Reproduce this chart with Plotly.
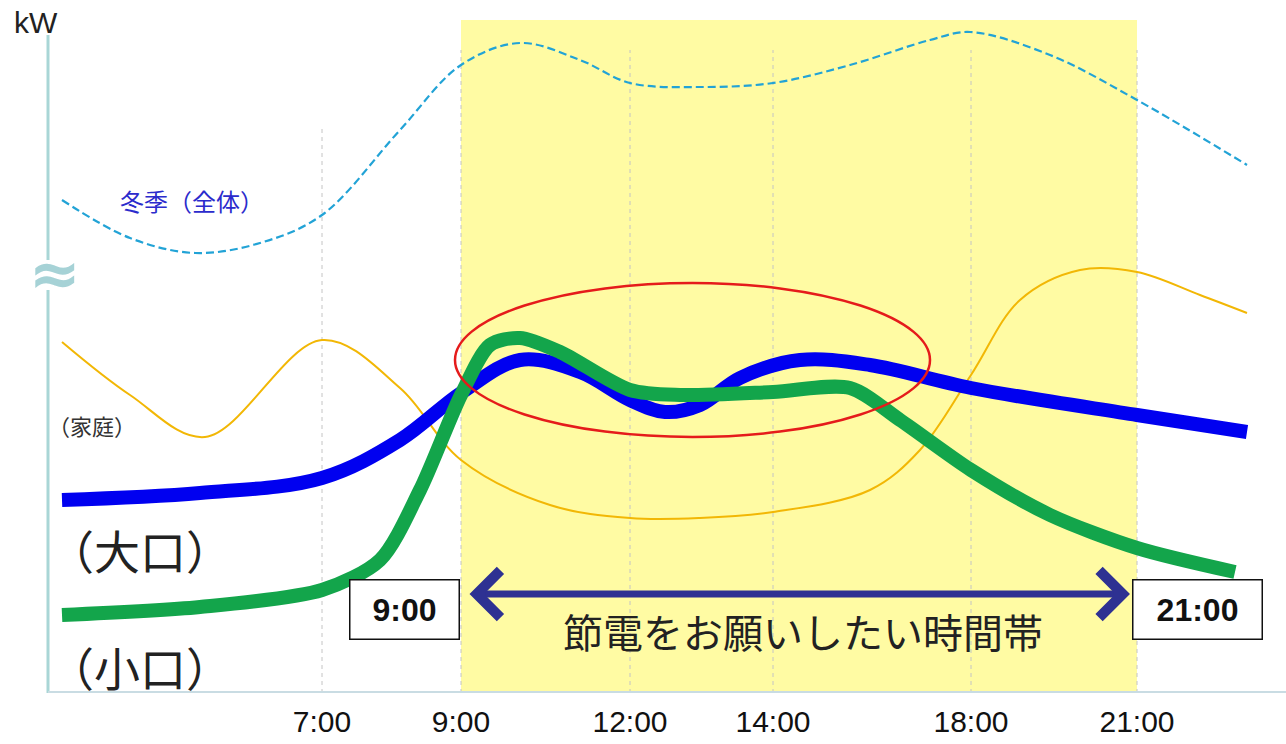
import plotly.graph_objects as go

# ---- Data (schematic units: x = position along time axis, y = kW, arbitrary scale) ----
tick_pos = [274, 413, 582, 725, 923, 1089]
tick_text = ["7:00", "9:00", "12:00", "14:00", "18:00", "21:00"]
grid_top = [568, 643, 643, 643, 643, 643]

winter_x = [14, 82, 147, 212, 274, 352, 413, 472, 532, 582, 652, 725, 802, 882, 922, 1002, 1089, 1199]
winter_y = [493, 455, 440, 450, 478, 563, 628, 650, 633, 610, 606, 610, 628, 653, 661, 638, 593, 528]

home_x = [14, 82, 157, 274, 352, 413, 502, 582, 652, 725, 822, 872, 923, 972, 1032, 1089, 1152, 1199]
home_y = [351, 298, 256, 353, 305, 233, 188, 175, 175, 181, 203, 243, 318, 393, 423, 421, 398, 380]

large_x = [14, 152, 274, 352, 413, 472, 532, 582, 617, 652, 692, 752, 822, 923, 1089, 1199]
large_y = [193, 200, 215, 253, 300, 333, 321, 293, 281, 288, 315, 333, 328, 305, 278, 261]

small_x = [14, 152, 274, 332, 372, 413, 442, 472, 512, 582, 632, 725, 802, 852, 923, 1002, 1089, 1187]
small_y = [78, 86, 103, 133, 203, 298, 348, 355, 341, 303, 298, 301, 305, 273, 223, 178, 145, 121]

band_x = [413, 1089]
band_y = [0, 673]

focus_x = [407, 882]
focus_y = [256, 410]

axis_break = [403, 433]

arrow_x = [420, 1082]
arrow_y = 99

fig = go.Figure()

fig.add_trace(go.Scatter(x=winter_x, y=winter_y, mode="lines",
                         line=dict(color="#22A3D6", width=2.2, dash="8px,4px", shape="spline", smoothing=1.0),
                         hoverinfo="skip", showlegend=False))
fig.add_trace(go.Scatter(x=home_x, y=home_y, mode="lines",
                         line=dict(color="#F2B705", width=2, shape="spline", smoothing=1.0),
                         hoverinfo="skip", showlegend=False))
fig.add_trace(go.Scatter(x=large_x, y=large_y, mode="lines",
                         line=dict(color="#0000F0", width=14, shape="spline", smoothing=1.0),
                         hoverinfo="skip", showlegend=False))
fig.add_trace(go.Scatter(x=small_x, y=small_y, mode="lines",
                         line=dict(color="#13A54B", width=14, shape="spline", smoothing=0.8),
                         hoverinfo="skip", showlegend=False))

shapes = []
shapes.append(dict(type="rect", xref="x", yref="y", x0=band_x[0], x1=band_x[1], y0=band_y[0], y1=band_y[1],
                   fillcolor="#FFFBA3", line=dict(width=0), layer="below"))
for p, top in zip(tick_pos, grid_top):
    shapes.append(dict(type="line", xref="x", yref="y", x0=p, x1=p, y0=0, y1=top,
                       line=dict(color="#C4C4C4", width=1, dash="4px,4px"), layer="below"))
# y axis line with a break for the ≈ mark
shapes.append(dict(type="line", xref="paper", yref="y", x0=0, x1=0, y0=0, y1=axis_break[0],
                   line=dict(color="#A9D6D6", width=3)))
shapes.append(dict(type="line", xref="paper", yref="y", x0=0, x1=0, y0=axis_break[1], y1=658,
                   line=dict(color="#A9D6D6", width=3)))
shapes.append(dict(type="line", xref="paper", yref="y", x0=0, x1=1, y0=0, y1=0,
                   line=dict(color="#C9DCE3", width=4)))
shapes.append(dict(type="circle", xref="x", yref="y", x0=focus_x[0], x1=focus_x[1], y0=focus_y[0], y1=focus_y[1],
                   line=dict(color="#E51B1B", width=2.5)))

jp = "Noto Sans CJK JP"
ann = []
ann.append(dict(x=-12 / 1238, y=671, xref="paper", yref="y", xanchor="center", yanchor="middle",
                text="kW", showarrow=False,
                font=dict(family="Liberation Sans, Arial", size=30, color="#222222")))
ann.append(dict(x=7 / 1238, y=420, xref="paper", yref="y", xanchor="center", yanchor="middle",
                text="<b>≈</b>", showarrow=False,
                font=dict(family="DejaVu Sans", size=62, color="#A6D2D6")))
ann.append(dict(x=144, y=493, xref="x", yref="y", text="冬季（全体）", showarrow=False,
                font=dict(family=jp, size=24, color="#2B2BCC")))
ann.append(dict(x=44, y=268, xref="x", yref="y", text="（家庭）", showarrow=False,
                font=dict(family=jp, size=22, color="#333333")))
ann.append(dict(x=92, y=144, xref="x", yref="y", text="（大口）", showarrow=False,
                font=dict(family=jp, size=46, color="#222222")))
ann.append(dict(x=92, y=27, xref="x", yref="y", text="（小口）", showarrow=False,
                font=dict(family=jp, size=46, color="#222222")))
ann.append(dict(x=arrow_x[1], y=arrow_y, ax=arrow_x[0], ay=arrow_y, xref="x", yref="y", axref="x", ayref="y",
                text="", showarrow=True, arrowhead=4, startarrowhead=4, arrowside="end+start",
                arrowsize=1.3, startarrowsize=1.3, arrowwidth=7, arrowcolor="#2E3192"))
ann.append(dict(x=755, y=62, xref="x", yref="y", text="節電をお願いしたい時間帯", showarrow=False,
                font=dict(family=jp, size=40, color="#222222")))
ann.append(dict(x=356, y=84, xref="x", yref="y", text="<b>9:00</b>", showarrow=False,
                width=106, height=56, bgcolor="white", bordercolor="#111111", borderwidth=1.5,
                font=dict(family="Liberation Sans, Arial", size=32, color="#111111")))
ann.append(dict(x=1149, y=84, xref="x", yref="y", text="<b>21:00</b>", showarrow=False,
                width=126, height=56, bgcolor="white", bordercolor="#111111", borderwidth=1.5,
                font=dict(family="Liberation Sans, Arial", size=32, color="#111111")))

fig.update_layout(
    width=1286, height=744,
    margin=dict(l=48, r=0, t=0, b=51),
    paper_bgcolor="white", plot_bgcolor="white",
    shapes=shapes, annotations=ann,
    xaxis=dict(range=[0, 1238], showgrid=False, zeroline=False, showline=False,
               tickvals=tick_pos, ticktext=tick_text, ticks="outside", ticklen=2,
               tickcolor="rgba(0,0,0,0)",
               tickfont=dict(family="Liberation Sans Narrow, Liberation Sans, Arial", size=30, color="#111111")),
    yaxis=dict(range=[0, 693], showgrid=False, zeroline=False, showline=False, showticklabels=False),
)

fig.write_html("out.html", config={"displayModeBar": False},
               post_script="document.body.style.margin='0';document.body.style.overflow='hidden';")
